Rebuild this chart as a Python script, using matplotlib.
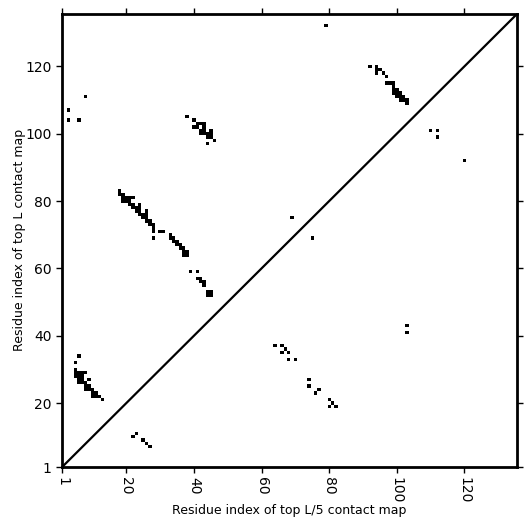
import numpy as np
import matplotlib
matplotlib.use("Agg")
import matplotlib.pyplot as plt

L = 135
ticks = [1, 20, 40, 60, 80, 100, 120]

# upper triangle: top L contacts, as {row(y): [columns(x)]}
top_L = {
    132: [79], 120: [92, 94], 119: [94, 95], 118: [94, 96], 117: [97],
    115: [97, 98, 99], 114: [99], 113: [99, 100], 112: [99, 100, 101],
    111: [8, 100, 101, 102], 110: [101, 102, 103], 109: [103],
    107: [3], 104: [3, 6, 40], 105: [38],
    103: [41, 42, 43], 102: [40, 41, 43], 101: [42, 43, 45, 110, 112],
    100: [42, 43, 44, 45], 99: [44, 45, 112], 98: [46], 97: [44], 92: [120],
    83: [18], 82: [18, 19], 81: [19, 20, 21, 22], 80: [19, 20, 21],
    79: [21, 22, 24], 78: [22, 23, 24], 77: [23, 24, 26], 76: [24, 25, 26],
    75: [25, 26, 69], 74: [26, 27], 73: [27, 28], 72: [28], 71: [28, 30, 31],
    70: [33], 69: [28, 33, 34, 75], 68: [34, 35], 67: [35, 36], 66: [36, 37],
    65: [37, 38], 64: [37, 38], 59: [39, 41], 57: [41, 42], 56: [42, 43],
    55: [43], 53: [44, 45], 52: [44, 45],
    34: [6], 32: [5], 30: [5], 29: [5, 6, 7, 8], 28: [5, 6, 7],
    27: [6, 7, 9], 26: [6, 7, 8], 25: [8, 9], 24: [8, 9, 10],
    23: [10, 11], 22: [10, 11, 12], 21: [13],
}

# lower triangle: top L/5 contacts, as {row(y): [columns(x)]}
top_L5 = {
    43: [103], 41: [103], 37: [64, 66], 36: [67], 35: [66, 68], 33: [68, 70],
    27: [74], 25: [74], 24: [77], 23: [76], 21: [80], 20: [81], 19: [80, 82],
    11: [23], 10: [22], 9: [25], 8: [26], 7: [27],
}

M = np.zeros((L + 1, L + 1))
for d in (top_L, top_L5):
    for r, cols in d.items():
        for c in cols:
            M[int(r), c] = 1

fig = plt.figure(figsize=(5.31, 5.31), dpi=100)
ax = fig.add_axes([0.117, 0.1205, 0.857, 0.8535])
ax.imshow(M, cmap="binary", origin="lower", interpolation="nearest",
          extent=(-0.5, L + 0.5, -0.5, L + 0.5), aspect="auto", vmin=0, vmax=1)
lim = (1, L + 0.6)
ax.plot(lim, lim, color="black", lw=1.6)
ax.set_xlim(lim)
ax.set_ylim(lim)
ax.set_xticks(ticks)
ax.set_yticks(ticks)
ax.set_xticklabels([str(t) for t in ticks], rotation=270)
ax.set_yticklabels([str(t) for t in ticks])
ax.tick_params(axis="both", which="both", direction="out", length=4, width=1,
               top=True, right=True, labelsize=10)
for s in ax.spines.values():
    s.set_linewidth(2)
ax.set_xlabel("Residue index of top L/5 contact map", fontsize=9, labelpad=0)
ax.set_ylabel("Residue index of top L contact map", fontsize=9, labelpad=-0.5)
fig.savefig("out.png", dpi=100)
